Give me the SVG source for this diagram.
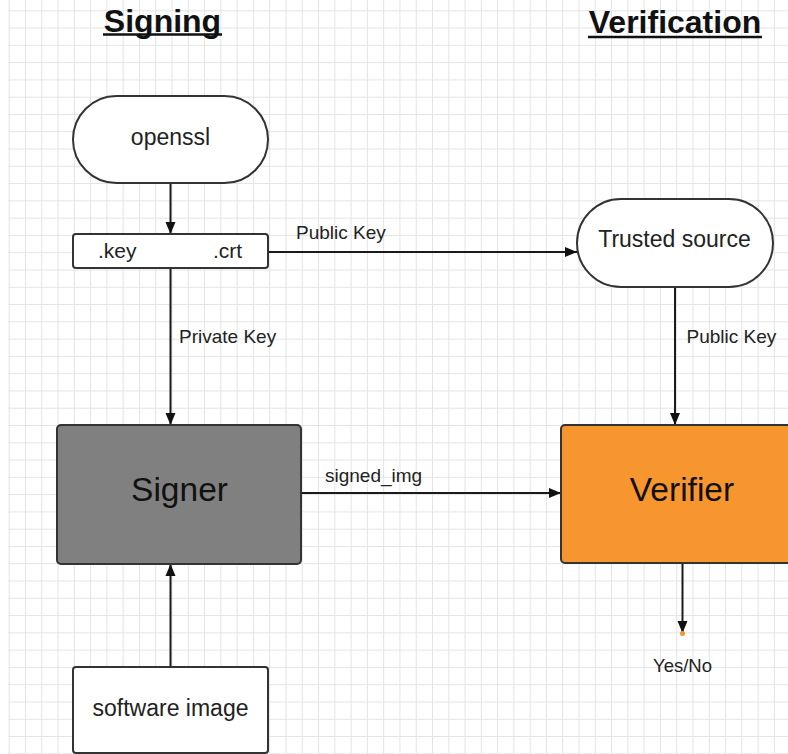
<svg xmlns="http://www.w3.org/2000/svg" width="788" height="754" viewBox="0 0 788 754">
  <style>
    .node { stroke: #333333; stroke-width: 2; }
    .plain { fill: #ffffff; }
    .txt { font-family: "Liberation Sans", Arial, sans-serif; fill: #222222; }
    .nodetxt { font-size: 23px; text-anchor: middle; }
    .bigtxt { font-size: 33.5px; text-anchor: middle; }
    .lbl { font-size: 19px; }
    .title { font-size: 32px; font-weight: bold; text-anchor: middle; fill: #111111; }
    .ul { stroke: #111111; stroke-width: 2.5; }
    .conn { fill: none; stroke: #1a1a1a; stroke-width: 2; }
  </style>
  <defs>
    <pattern id="grid" patternUnits="userSpaceOnUse" x="8.72" y="10.3" width="16.28" height="17.28">
      <path d="M0 0.5 H16.28 M0.5 0 V17.28" fill="none" stroke="#e3e3e3" stroke-width="1"/>
    </pattern>
    <marker id="arrow" markerUnits="userSpaceOnUse" markerWidth="13" markerHeight="11" viewBox="0 0 13 11" refX="12.5" refY="5.5" orient="auto">
      <path d="M0.5 0.5 L12.5 5.5 L0.5 10.5 Z" fill="#111111"/>
    </marker>
  </defs>

  <rect x="0" y="0" width="788" height="754" fill="#ffffff"/>
  <rect x="8" y="0" width="780" height="754" fill="url(#grid)"/>

  <g id="title-signing">
    <text class="txt title" x="162.5" y="31.5">Signing</text>
    <line class="ul" x1="103" y1="34.5" x2="222" y2="34.5"/>
  </g>
  <g id="title-verification">
    <text class="txt title" x="675" y="33">Verification</text>
    <line class="ul" x1="588" y1="37" x2="762" y2="37"/>
  </g>

  <g id="connectors">
    <path class="conn" d="M170.5 183 V234" marker-end="url(#arrow)"/>
    <path class="conn" d="M268 252 H577" marker-end="url(#arrow)"/>
    <path class="conn" d="M170.5 268 V425" marker-end="url(#arrow)"/>
    <path class="conn" d="M170.5 667 V564" marker-end="url(#arrow)"/>
    <path class="conn" d="M301 493 H561" marker-end="url(#arrow)"/>
    <path class="conn" d="M675 287 V425" marker-end="url(#arrow)"/>
    <path class="conn" d="M682.5 563 V633" marker-end="url(#arrow)"/>
    <circle cx="682.5" cy="633.5" r="2.5" fill="#f7962f"/>
    <text class="txt lbl" x="296" y="239">Public Key</text>
    <text class="txt lbl" x="179" y="343">Private Key</text>
    <text class="txt lbl" x="686.5" y="343">Public Key</text>
    <text class="txt lbl" x="325" y="482">signed_img</text>
    <text class="txt lbl" x="653" y="672" style="font-size:18.5px">Yes/No</text>
  </g>

  <g id="openssl">
    <rect class="node plain" x="73" y="96" width="195" height="87" rx="43.5" ry="43.5"/>
    <text class="txt nodetxt" x="170.5" y="145">openssl</text>
  </g>

  <g id="keys">
    <rect class="node plain" x="73" y="234" width="195" height="34" rx="3" ry="3"/>
    <text class="txt" x="98" y="258" style="font-size:21px">.key</text>
    <text class="txt" x="213" y="258" style="font-size:21px">.crt</text>
  </g>

  <g id="trusted-source">
    <rect class="node plain" x="577" y="199" width="196" height="88" rx="44" ry="44"/>
    <text class="txt nodetxt" x="674.5" y="247">Trusted source</text>
  </g>

  <g id="signer">
    <rect class="node" x="57" y="425" width="244" height="139" rx="4" ry="4" fill="#808080"/>
    <text class="txt bigtxt" x="179.5" y="501" style="fill:#111111">Signer</text>
  </g>

  <g id="verifier">
    <rect class="node" x="561" y="425" width="250" height="138" rx="4" ry="4" fill="#f7962f"/>
    <text class="txt bigtxt" x="682" y="501" style="fill:#111111">Verifier</text>
  </g>

  <g id="software-image">
    <rect class="node plain" x="73" y="667" width="195" height="86" rx="3" ry="3"/>
    <text class="txt nodetxt" x="170.5" y="716">software image</text>
  </g>
</svg>
